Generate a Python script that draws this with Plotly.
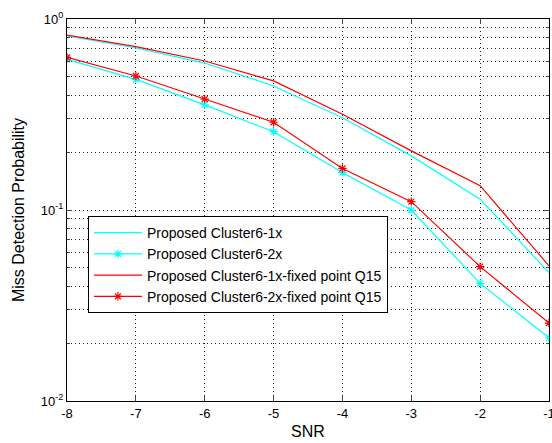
import plotly.graph_objects as go

snr = [-8, -7, -6, -5, -4, -3, -2, -1]
c1x = [0.815, 0.705, 0.588, 0.446, 0.304, 0.192, 0.114, 0.047]
c2x = [0.615, 0.483, 0.355, 0.257, 0.157, 0.0999, 0.0413, 0.0214]
c1x_q15 = [0.824, 0.716, 0.603, 0.474, 0.317, 0.204, 0.134, 0.051]
c2x_q15 = [0.630, 0.503, 0.381, 0.288, 0.165, 0.1106, 0.0505, 0.0256]

names = ["Proposed Cluster6-1x", "Proposed Cluster6-2x",
         "Proposed Cluster6-1x-fixed point Q15", "Proposed Cluster6-2x-fixed point Q15"]
xticktext = ["-8", "-7", "-6", "-5", "-4", "-3", "-2", "-1"]
ytickvals = [0.01, 0.1, 1]
yticktext = ["10<sup>-2</sup>", "10<sup>-1</sup>", "10<sup>0</sup>"]

CYAN = "#00FFFF"
RED = "#FF0000"
FONT = "Liberation Sans, Arial, sans-serif"
GRIDC = "#222222"
DASH = "1px,3px"

fig = go.Figure()
fig.add_trace(go.Scatter(x=snr, y=c1x, name=names[0], mode="lines",
                         line=dict(color=CYAN, width=1.2)))
fig.add_trace(go.Scatter(x=snr, y=c2x, name=names[1], mode="lines+markers",
                         line=dict(color=CYAN, width=1.2),
                         marker=dict(symbol="asterisk-open", size=7, color=CYAN,
                                     line=dict(color=CYAN, width=1.2))))
fig.add_trace(go.Scatter(x=snr, y=c1x_q15, name=names[2], mode="lines",
                         line=dict(color=RED, width=1.2)))
fig.add_trace(go.Scatter(x=snr, y=c2x_q15, name=names[3], mode="lines+markers",
                         line=dict(color=RED, width=1.2),
                         marker=dict(symbol="asterisk-open", size=7, color=RED,
                                     line=dict(color=RED, width=1.2))))

grid = dict(showgrid=True, gridcolor=GRIDC, griddash=DASH, gridwidth=1)

fig.update_layout(
    width=552, height=443,
    margin=dict(l=67, r=3, t=19, b=42, autoexpand=False),
    paper_bgcolor="white", plot_bgcolor="white",
    font=dict(family=FONT, size=13, color="#000000"),
    showlegend=True,
    legend=dict(x=0.0435, y=0.484, xanchor="left", yanchor="top",
                bgcolor="white", bordercolor="#000000", borderwidth=1,
                font=dict(family=FONT, size=14), tracegroupgap=0,
                itemwidth=48),
    xaxis=dict(range=[-8, -1], tickvals=snr, ticktext=xticktext,
               ticks="inside", ticklen=5, automargin=False,
               ticklabeloverflow="allow",
               showline=True, linecolor="#000000", linewidth=1, mirror="ticks",
               zeroline=False, title=dict(text="SNR", standoff=6),
               tickfont=dict(size=13), **grid),
    yaxis=dict(type="log", range=[-2, 0], tickvals=ytickvals, ticktext=yticktext,
               ticks="inside", ticklen=5, automargin=False,
               showline=True, linecolor="#000000", linewidth=1, mirror="ticks",
               zeroline=False, title=dict(text="Miss Detection Probability", standoff=12),
               tickfont=dict(size=13),
               minor=dict(ticks="inside", ticklen=3, showgrid=True,
                          gridcolor=GRIDC, griddash=DASH, gridwidth=1,
                          dtick="D1"),
               **grid),
)
fig.write_html(
    "out.html",
    config={"displayModeBar": False},
    post_script="document.body.style.margin='0';document.body.style.overflow='hidden';",
)
